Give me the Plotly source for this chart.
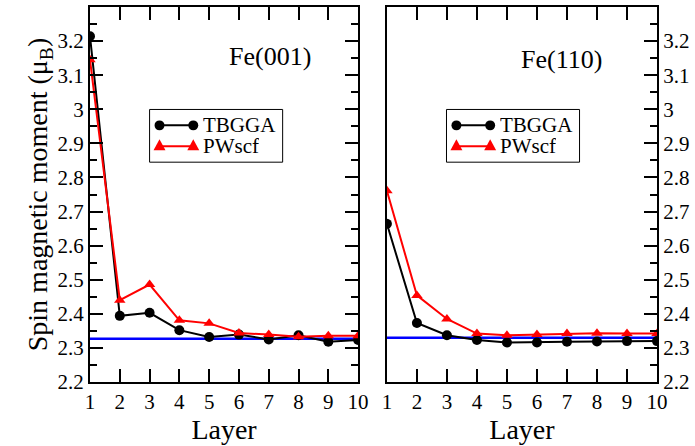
import plotly.graph_objects as go

layers = list(range(1, 11))
tbgga_001 = [3.214, 2.394, 2.403, 2.352, 2.332, 2.339, 2.325, 2.337, 2.318, 2.323]
pwscf_001 = [3.145, 2.440, 2.486, 2.381, 2.372, 2.344, 2.339, 2.333, 2.336, 2.336]
tbgga_110 = [2.664, 2.373, 2.337, 2.323, 2.316, 2.316, 2.318, 2.319, 2.320, 2.320]
pwscf_110 = [2.761, 2.454, 2.385, 2.342, 2.337, 2.339, 2.342, 2.343, 2.342, 2.342]
bulk_001 = 2.327
bulk_110 = 2.330
series_names = ["TBGGA", "PWscf"]
panel_labels = ["Fe(001)", "Fe(110)"]
y_ticks = [2.2, 2.3, 2.4, 2.5, 2.6, 2.7, 2.8, 2.9, 3.0, 3.1, 3.2]
y_tick_text = ["2.2", "2.3", "2.4", "2.5", "2.6", "2.7", "2.8", "2.9", "3", "3.1", "3.2"]

FONT = "Liberation Serif"
BLACK, RED, BLUE = "black", "#ff0000", "#0000ff"
fig = go.Figure()

def add_panel(xa, ya, tb, pw, bulk):
    fig.add_trace(go.Scatter(x=[layers[0], layers[-1]], y=[bulk, bulk], mode="lines",
                             line=dict(color=BLUE, width=2.5), showlegend=False,
                             xaxis=xa, yaxis=ya, hoverinfo="skip"))
    fig.add_trace(go.Scatter(x=layers, y=tb, mode="lines+markers", name=series_names[0],
                             line=dict(color=BLACK, width=2),
                             marker=dict(symbol="circle", size=10, color=BLACK),
                             xaxis=xa, yaxis=ya, showlegend=False))
    fig.add_trace(go.Scatter(x=layers, y=pw, mode="lines+markers", name=series_names[1],
                             line=dict(color=RED, width=2),
                             marker=dict(symbol="triangle-up", size=10, color=RED),
                             xaxis=xa, yaxis=ya, showlegend=False))

add_panel("x", "y", tbgga_001, pwscf_001, bulk_001)
add_panel("x2", "y2", tbgga_110, pwscf_110, bulk_110)

W, H = 695, 446
ml, mr, mt, mb = 90, 34, 5, 64
pw_ = W - ml - mr
ph_ = H - mt - mb
d1 = [0, 270 / pw_]
d2 = [(389 - ml) / pw_, 1]

def px(v):
    return (v - ml) / pw_

def py(v):
    return (H - mb - v) / ph_

xcommon = dict(range=[1, 10], tickmode="array", tickvals=layers, ticktext=[str(v) for v in layers],
               ticks="inside", ticklen=13, tickwidth=1.5, tickcolor="black",
               showline=True, linecolor="black", linewidth=2, mirror="ticks",
               showgrid=False, zeroline=False,
               tickfont=dict(family=FONT, size=21, color="black"),
               title=dict(text="Layer", font=dict(family=FONT, size=28, color="black"), standoff=0))
ycommon = dict(range=[2.2, 3.3], tickmode="array", tickvals=y_ticks, ticktext=y_tick_text,
               ticks="inside", ticklen=13, tickwidth=1.5, tickcolor="black",
               showline=True, linecolor="black", linewidth=2,
               showgrid=False, zeroline=False,
               minor=dict(dtick=0.05, tick0=2.2, ticks="inside", ticklen=7, tickwidth=1.5,
                          tickcolor="black", showgrid=False),
               tickfont=dict(family=FONT, size=21, color="black"))

# hand-built legend boxes (tight rows like the original)
shapes, annotations = [], []
for bx in (150, 449):
    by0, by1 = 108, 161
    shapes.append(dict(type="rect", xref="paper", yref="paper", x0=px(bx), x1=px(bx + 134),
                       y0=py(by1), y1=py(by0), line=dict(color="black", width=1),
                       fillcolor="white", layer="above"))
    for row, (name, col, sym) in enumerate(zip(series_names, [BLACK, RED], ["circle", "triangle"])):
        yy = 124 + row * 21
        xa_, xb_ = bx + 10, bx + 44
        shapes.append(dict(type="line", xref="paper", yref="paper", x0=px(xa_), x1=px(xb_),
                           y0=py(yy), y1=py(yy), line=dict(color=col, width=2), layer="above"))
        for xm in (xa_, xb_):
            if sym == "circle":
                shapes.append(dict(type="circle", xref="paper", yref="paper",
                                   x0=px(xm - 5), x1=px(xm + 5), y0=py(yy + 5), y1=py(yy - 5),
                                   fillcolor=col, line=dict(color=col, width=0), layer="above"))
            else:
                path = (f"M {px(xm - 6)} {py(yy + 4)} L {px(xm + 6)} {py(yy + 4)} "
                        f"L {px(xm)} {py(yy - 7)} Z")
                shapes.append(dict(type="path", xref="paper", yref="paper", path=path,
                                   fillcolor=col, line=dict(color=col, width=0), layer="above"))
        annotations.append(dict(text=name, x=px(bx + 53), y=py(yy), xref="paper", yref="paper",
                                xanchor="left", yanchor="middle", showarrow=False,
                                height=20, valign="middle", borderpad=0,
                                font=dict(family=FONT, size=21, color="black")))

annotations += [
    dict(text=panel_labels[0], x=px(271), y=py(55), xref="paper", yref="paper",
         xanchor="center", yanchor="middle", showarrow=False,
         font=dict(family=FONT, size=26, color="black")),
    dict(text=panel_labels[1], x=px(565), y=py(58), xref="paper", yref="paper",
         xanchor="center", yanchor="middle", showarrow=False,
         font=dict(family=FONT, size=26, color="black")),
]

fig.update_layout(
    width=W, height=H,
    margin=dict(l=ml, r=mr, t=mt, b=mb),
    plot_bgcolor="white", paper_bgcolor="white",
    showlegend=False,
    xaxis=dict(domain=d1, **xcommon),
    xaxis2=dict(domain=d2, anchor="y2", **xcommon),
    yaxis=dict(domain=[0, 1], anchor="x", mirror="ticks",
               title=dict(text="Spin magnetic moment (μ<sub>B</sub>)",
                          font=dict(family=FONT, size=28, color="black"), standoff=2),
               **ycommon),
    yaxis2=dict(domain=[0, 1], anchor="x2", side="right", mirror=True, **ycommon),
    shapes=shapes,
    annotations=annotations,
)

fig.write_html("out.html")
